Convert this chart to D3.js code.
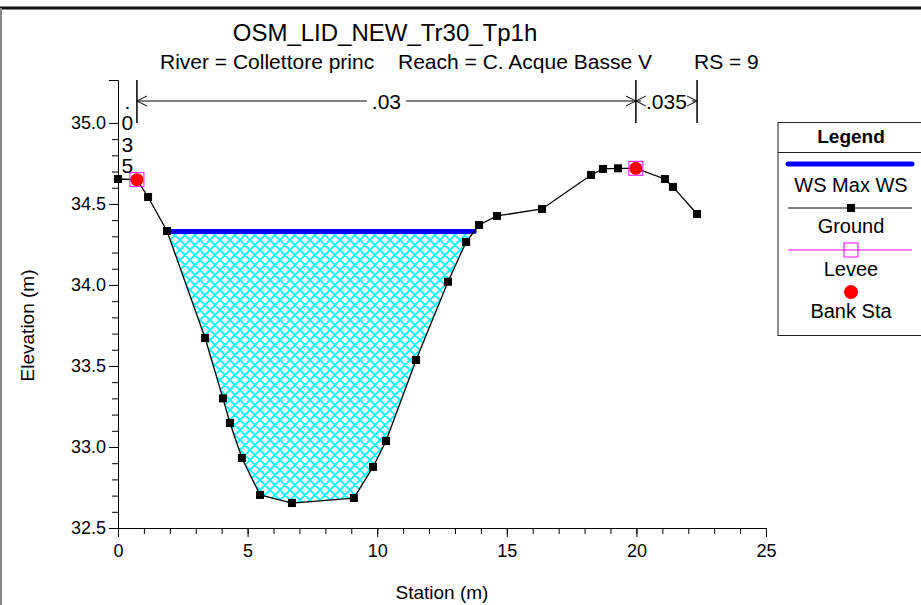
<!DOCTYPE html>
<meta charset="utf-8">
<head>
<title>OSM_LID_NEW_Tr30_Tp1h</title>
<script src="https://d3js.org/d3.v7.min.js"></script>
<style>
  body { margin: 0; background: #ffffff; }
  svg text { font-family: "Liberation Sans", Arial, sans-serif; fill: #000; }
</style>
</head>
<body>
<div id="chart"></div>
<script>

// ground profile (station m, elevation m)
var stations   = [0, 0.73, 1.16, 1.89, 3.36, 4.05, 4.32, 4.78, 5.48, 6.71, 9.10, 9.84, 10.34,
                  11.50, 12.73, 13.43, 13.93, 14.62, 16.36, 18.25, 18.71, 19.29, 19.98, 21.10, 21.41, 22.34];
var elevations = [34.654, 34.65, 34.543, 34.333, 33.673, 33.30, 33.148, 32.932, 32.704, 32.654, 32.685, 32.877, 33.037,
                  33.537, 34.02, 34.265, 34.37, 34.426, 34.469, 34.679, 34.716, 34.72, 34.72, 34.654, 34.605, 34.438];

var bankStations   = [0.73, 19.98];
var bankElevations = [34.65, 34.72];
var leveeStations   = [0.73, 19.98];
var leveeElevations = [34.65, 34.72];

var wsElevation = 34.33;

// Manning's n regions
var nBreaks = [0, 0.73, 19.98, 22.34];
var nValues = [".035", ".03", ".035"];

var xTicks = [0, 5, 10, 15, 20, 25];
var yTicks = [32.5, 33.0, 33.5, 34.0, 34.5, 35.0];

var titleText = "OSM_LID_NEW_Tr30_Tp1h";
var subtitleParts = ["River = Collettore princ", "Reach = C. Acque Basse V", "RS = 9"];
var legendLabels = ["WS Max WS", "Ground", "Levee", "Bank Sta"];

var W = 921, H = 605;
var svg = d3.select("#chart").append("svg")
    .attr("width", W)
    .attr("height", H);

// frame
svg.append("line").attr("x1", 0).attr("x2", W).attr("y1", 8).attr("y2", 8)
    .attr("stroke", "#111").attr("stroke-width", 3);
svg.append("line").attr("x1", 1).attr("x2", 1).attr("y1", 8).attr("y2", H)
    .attr("stroke", "#888").attr("stroke-width", 2);

var x = d3.scaleLinear().domain([0, 25]).range([118, 766]);
var y = d3.scaleLinear().domain([32.5, 35.265]).range([528, 80]);

// hatch pattern for the water
var hp = 10;
var defs = svg.append("defs");
var pat = defs.append("pattern")
    .attr("id", "hatch")
    .attr("patternUnits", "userSpaceOnUse")
    .attr("width", hp).attr("height", hp);
pat.append("path")
    .attr("d", "M0,0L" + hp + "," + hp + "M" + hp + ",0L0," + hp +
               "M-1," + (hp - 1) + "L1," + (hp + 1) + "M" + (hp - 1) + ",-1L" + (hp + 1) + ",1" +
               "M-1,1L1,-1M" + (hp - 1) + "," + (hp + 1) + "L" + (hp + 1) + "," + (hp - 1))
    .attr("stroke", "#00ffff")
    .attr("stroke-width", 1.8)
    .attr("fill", "none");

defs.append("clipPath").attr("id", "belowWS")
    .append("rect")
    .attr("x", x(0)).attr("y", y(wsElevation) + 2)
    .attr("width", x(25) - x(0)).attr("height", y(32.5) - y(wsElevation));

var ground = stations.map(function(s, i) { return {s: s, e: elevations[i]}; });

svg.append("path")
    .datum(ground)
    .attr("clip-path", "url(#belowWS)")
    .attr("fill", "url(#hatch)")
    .attr("d", d3.area()
        .x(function(d) { return x(d.s); })
        .y0(function(d) { return y(d.e); })
        .y1(function() { return y(wsElevation); }));

// water surface line (ends where the ground crosses it)
function crossing(i0, i1) {
    var a = ground[i0], b = ground[i1];
    return a.s + (wsElevation - a.e) / (b.e - a.e) * (b.s - a.s);
}
var wsLeft = crossing(2, 3), wsRight = crossing(15, 16);
svg.append("line")
    .attr("x1", x(wsLeft)).attr("x2", x(wsRight))
    .attr("y1", y(wsElevation)).attr("y2", y(wsElevation))
    .attr("stroke", "#0000ff")
    .attr("stroke-width", 5)
    .attr("stroke-linecap", "round");

// axes
var fontAxis = "18px";
svg.append("g")
    .attr("transform", "translate(" + x(0) + ",0)")
    .call(d3.axisLeft(y).tickValues(yTicks).tickSize(9).tickPadding(3).tickFormat(d3.format(".1f")));
svg.append("g")
    .attr("transform", "translate(" + x(0) + ",0)")
    .call(d3.axisLeft(y).tickValues(d3.range(32.6, 35.0, 0.1)).tickSize(6).tickFormat(""))
    .select(".domain").remove();
svg.append("g")
    .attr("transform", "translate(0," + y(32.5) + ")")
    .call(d3.axisBottom(x).tickValues(xTicks).tickSize(9).tickPadding(7));
svg.append("g")
    .attr("transform", "translate(0," + y(32.5) + ")")
    .call(d3.axisBottom(x).tickValues(d3.range(1, 25, 1)).tickSize(6).tickFormat(""))
    .select(".domain").remove();
svg.selectAll(".tick text")
    .style("font-size", fontAxis)
    .style("font-family", "'Liberation Sans', Arial, sans-serif");
svg.selectAll(".domain, .tick line").attr("stroke", "#000");

// ground line and points
svg.append("path")
    .datum(ground)
    .attr("fill", "none")
    .attr("stroke", "#000")
    .attr("stroke-width", 1.3)
    .attr("d", d3.line().x(function(d) { return x(d.s); }).y(function(d) { return y(d.e); }));
svg.selectAll(".gpt")
    .data(ground)
    .enter().append("rect")
    .attr("class", "gpt")
    .attr("x", function(d) { return x(d.s) - 4; })
    .attr("y", function(d) { return y(d.e) - 4; })
    .attr("width", 8).attr("height", 8)
    .attr("fill", "#000");

// levee and bank stations
svg.selectAll(".bank")
    .data(bankStations)
    .enter().append("circle")
    .attr("cx", function(d) { return x(d); })
    .attr("cy", function(d, i) { return y(bankElevations[i]); })
    .attr("r", 6.5)
    .attr("fill", "#ff0000");
svg.selectAll(".levee")
    .data(leveeStations)
    .enter().append("rect")
    .attr("x", function(d) { return x(d) - 7; })
    .attr("y", function(d, i) { return y(leveeElevations[i]) - 7; })
    .attr("width", 14).attr("height", 14)
    .attr("fill", "none")
    .attr("stroke", "#ff00ff")
    .attr("stroke-width", 1);

// Manning's n annotation
var nTop = y.range()[1], nBottom = y(35), nY = 101;
var nFont = 21;
function chevron(xTip, dir) {
    svg.append("path")
        .attr("d", "M" + (xTip - dir * 10) + "," + (nY - 5) + "L" + xTip + "," + nY + "L" + (xTip - dir * 10) + "," + (nY + 5))
        .attr("fill", "none").attr("stroke", "#000").attr("stroke-width", 1);
}
nBreaks.slice(1).forEach(function(b) {
    svg.append("line")
        .attr("x1", x(b)).attr("x2", x(b))
        .attr("y1", nTop).attr("y2", nBottom)
        .attr("stroke", "#000").attr("stroke-width", 1.5);
});
nValues.forEach(function(v, i) {
    var x1 = x(nBreaks[i]), x2 = x(nBreaks[i + 1]), cx = (x1 + x2) / 2;
    if (x2 - x1 < 40) {
        // too narrow: stack the characters
        svg.append("text")
            .attr("x", cx).attr("y", nY + 7.5)
            .attr("text-anchor", "middle")
            .style("font-size", nFont + "px")
            .selectAll("tspan")
            .data(v.split(""))
            .enter().append("tspan")
            .attr("x", cx)
            .attr("dy", function(d, j) { return j === 0 ? 0 : 21.5; })
            .text(function(d) { return d; });
        return;
    }
    var t = svg.append("text")
        .attr("x", cx).attr("y", nY + 7.5)
        .attr("text-anchor", "middle")
        .style("font-size", nFont + "px")
        .text(v);
    var tw = t.node().getComputedTextLength();
    var gl = cx - tw / 2 - 5, gr = cx + tw / 2 + 5;
    if (gl > x1) svg.append("line").attr("x1", x1).attr("x2", gl).attr("y1", nY).attr("y2", nY).attr("stroke", "#000");
    if (gr < x2) svg.append("line").attr("x1", gr).attr("x2", x2).attr("y1", nY).attr("y2", nY).attr("stroke", "#000");
    chevron(x1, -1);
    chevron(x2, 1);
});

// titles
svg.append("text")
    .attr("x", 385).attr("y", 41)
    .attr("text-anchor", "middle")
    .style("font-size", "24px")
    .text(titleText);
var subX = [160, 398, 694];
subtitleParts.forEach(function(p, i) {
    svg.append("text")
        .attr("x", subX[i]).attr("y", 69)
        .style("font-size", "21px")
        .text(p);
});

svg.append("text")
    .attr("x", (x(0) + x(25)) / 2).attr("y", 599)
    .attr("text-anchor", "middle")
    .style("font-size", "19px")
    .text("Station (m)");
svg.append("text")
    .attr("transform", "translate(34," + ((y(32.5) + y(35)) / 2) + ") rotate(-90)")
    .attr("text-anchor", "middle")
    .style("font-size", "19px")
    .text("Elevation (m)");

// legend
var lg = svg.append("g");
var lx = 778, lcx = 851;
lg.append("rect")
    .attr("x", lx).attr("y", 122.5)
    .attr("width", 160).attr("height", 213)
    .attr("fill", "#fff").attr("stroke", "#222").attr("stroke-width", 1);
lg.append("line").attr("x1", lx).attr("x2", W).attr("y1", 152.5).attr("y2", 152.5)
    .attr("stroke", "#222");
lg.append("text")
    .attr("x", lcx).attr("y", 143)
    .attr("text-anchor", "middle")
    .style("font-size", "19px").style("font-weight", "bold")
    .text("Legend");
var symY = [164, 208, 250, 292];
var labY = [192, 233, 276, 318];
lg.append("line").attr("x1", 788).attr("x2", 912).attr("y1", symY[0]).attr("y2", symY[0])
    .attr("stroke", "#0000ff").attr("stroke-width", 5).attr("stroke-linecap", "round");
lg.append("line").attr("x1", 788).attr("x2", 912).attr("y1", symY[1]).attr("y2", symY[1])
    .attr("stroke", "#000").attr("stroke-width", 1);
lg.append("rect").attr("x", lcx - 4).attr("y", symY[1] - 4).attr("width", 8).attr("height", 8).attr("fill", "#000");
lg.append("line").attr("x1", 788).attr("x2", 912).attr("y1", symY[2]).attr("y2", symY[2])
    .attr("stroke", "#ff00ff").attr("stroke-width", 1);
lg.append("rect").attr("x", lcx - 7).attr("y", symY[2] - 7).attr("width", 14).attr("height", 14)
    .attr("fill", "none").attr("stroke", "#ff00ff");
lg.append("circle").attr("cx", lcx).attr("cy", symY[3]).attr("r", 7).attr("fill", "#ff0000");
legendLabels.forEach(function(l, i) {
    lg.append("text")
        .attr("x", lcx).attr("y", labY[i])
        .attr("text-anchor", "middle")
        .style("font-size", "20px")
        .text(l);
});

</script>
</body>
</html>
